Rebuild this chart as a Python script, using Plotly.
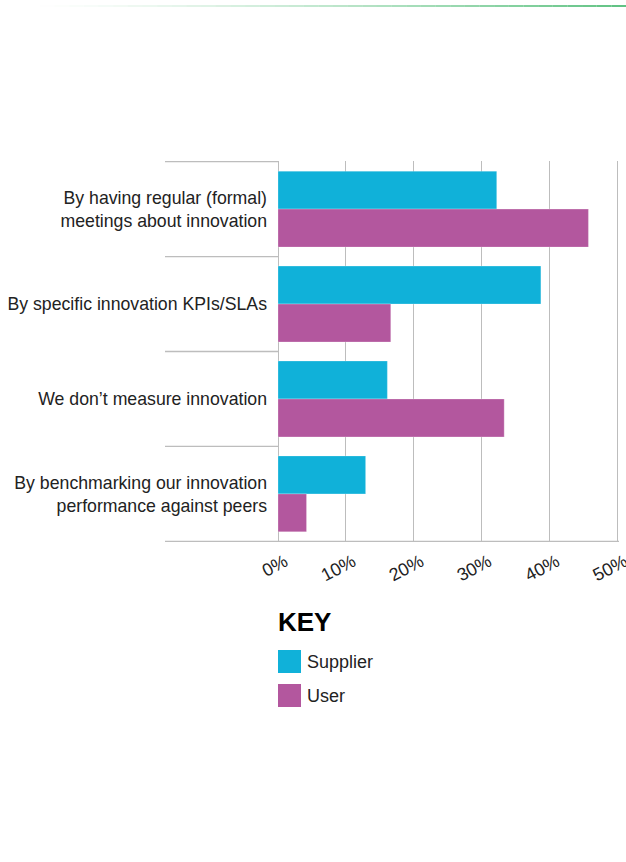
import plotly.graph_objects as go

# Survey responses: how innovation is measured (% of respondents)
categories = [
    "By having regular (formal)<br>meetings about innovation",
    "By specific innovation KPIs/SLAs",
    "We don’t measure innovation",
    "By benchmarking our innovation<br>performance against peers",
]
supplier = [32.2, 38.7, 16.1, 12.9]
user = [45.7, 16.6, 33.3, 4.2]
tick_vals = [0, 10, 20, 30, 40, 50]
tick_text = ["0%", "10%", "20%", "30%", "40%", "50%"]

SUPPLIER_COLOR = "#10B1D9"
USER_COLOR = "#B3579E"
GRID = "#BDBDBD"
FONT = "Liberation Sans, Arial, Helvetica, sans-serif"

W, H = 626, 862
L, R, T, B = 278, 7, 161, 320
PW, PH = W - L - R, H - T - B


def px_x(x):
    return (x - L) / PW


def px_y(y):
    return (H - B - y) / PH


fig = go.Figure()
fig.add_trace(go.Bar(
    y=categories, x=supplier, name="Supplier", orientation="h",
    marker=dict(color=SUPPLIER_COLOR, line=dict(color="rgba(255,255,255,0.25)", width=1)),
    hoverinfo="x+name",
))
fig.add_trace(go.Bar(
    y=categories, x=user, name="User", orientation="h",
    marker=dict(color=USER_COLOR, line=dict(color="rgba(255,255,255,0.25)", width=1)),
    hoverinfo="x+name",
))

shapes = []
# category separators on the left, plus the baseline across the plot
for i in range(len(categories) + 1):
    yv = i - 0.5
    x1 = 1 if i == len(categories) else 0
    shapes.append(dict(type="line", xref="paper", yref="y", x0=px_x(165), x1=x1,
                       y0=yv, y1=yv, line=dict(color=GRID, width=1.3)))

# faded green rule along the top of the page
n_seg = 40
x_start, x_end = 40, W
for k in range(n_seg):
    a = x_start + (x_end - x_start) * k / n_seg
    b = x_start + (x_end - x_start) * (k + 1) / n_seg
    op = ((k + 1) / n_seg) ** 1.3
    shapes.append(dict(type="line", xref="paper", yref="paper", x0=px_x(a), x1=px_x(b),
                       y0=px_y(6), y1=px_y(6),
                       line=dict(color=f"rgba(80,188,118,{op:.3f})", width=1.8)))

# key swatches
key_items = [("Supplier", SUPPLIER_COLOR, 650), ("User", USER_COLOR, 684)]
annotations = [dict(text="<b>KEY</b>", xref="paper", yref="paper", x=px_x(276), y=px_y(622),
                    xanchor="left", yanchor="middle", showarrow=False,
                    font=dict(family=FONT, size=26, color="#000000"))]
for name, color, top in key_items:
    shapes.append(dict(type="rect", xref="paper", yref="paper",
                       x0=px_x(278), x1=px_x(301), y0=px_y(top + 23), y1=px_y(top),
                       fillcolor=color, line=dict(width=0)))
    annotations.append(dict(text=name, xref="paper", yref="paper", x=px_x(305),
                            y=px_y(top + 12), xanchor="left", yanchor="middle",
                            showarrow=False, font=dict(family=FONT, size=18, color="#222222")))

fig.update_layout(
    width=W, height=H,
    margin=dict(l=L, r=R, t=T, b=B),
    paper_bgcolor="white", plot_bgcolor="white",
    barmode="group", bargap=0.2, bargroupgap=0,
    showlegend=False,
    font=dict(family=FONT, size=17.7, color="#222222"),
    shapes=shapes, annotations=annotations,
    xaxis=dict(range=[0, 50.2], tickvals=tick_vals, ticktext=tick_text, tickangle=-28,
               showgrid=True, gridcolor=GRID, gridwidth=1.3, zeroline=True,
               zerolinecolor=GRID, zerolinewidth=1.3, showline=False, ticks="",
               automargin=False, ticklabelstandoff=5, ticklabelshift=7,
               ticklabeloverflow="allow",
               tickfont=dict(family=FONT, size=18, color="#222222")),
    yaxis=dict(autorange="reversed", showgrid=False, showline=False, ticks="",
               automargin=False, ticklabelstandoff=10,
               tickfont=dict(family=FONT, size=17.7, color="#222222")),
)

fig.write_html("out.html")
